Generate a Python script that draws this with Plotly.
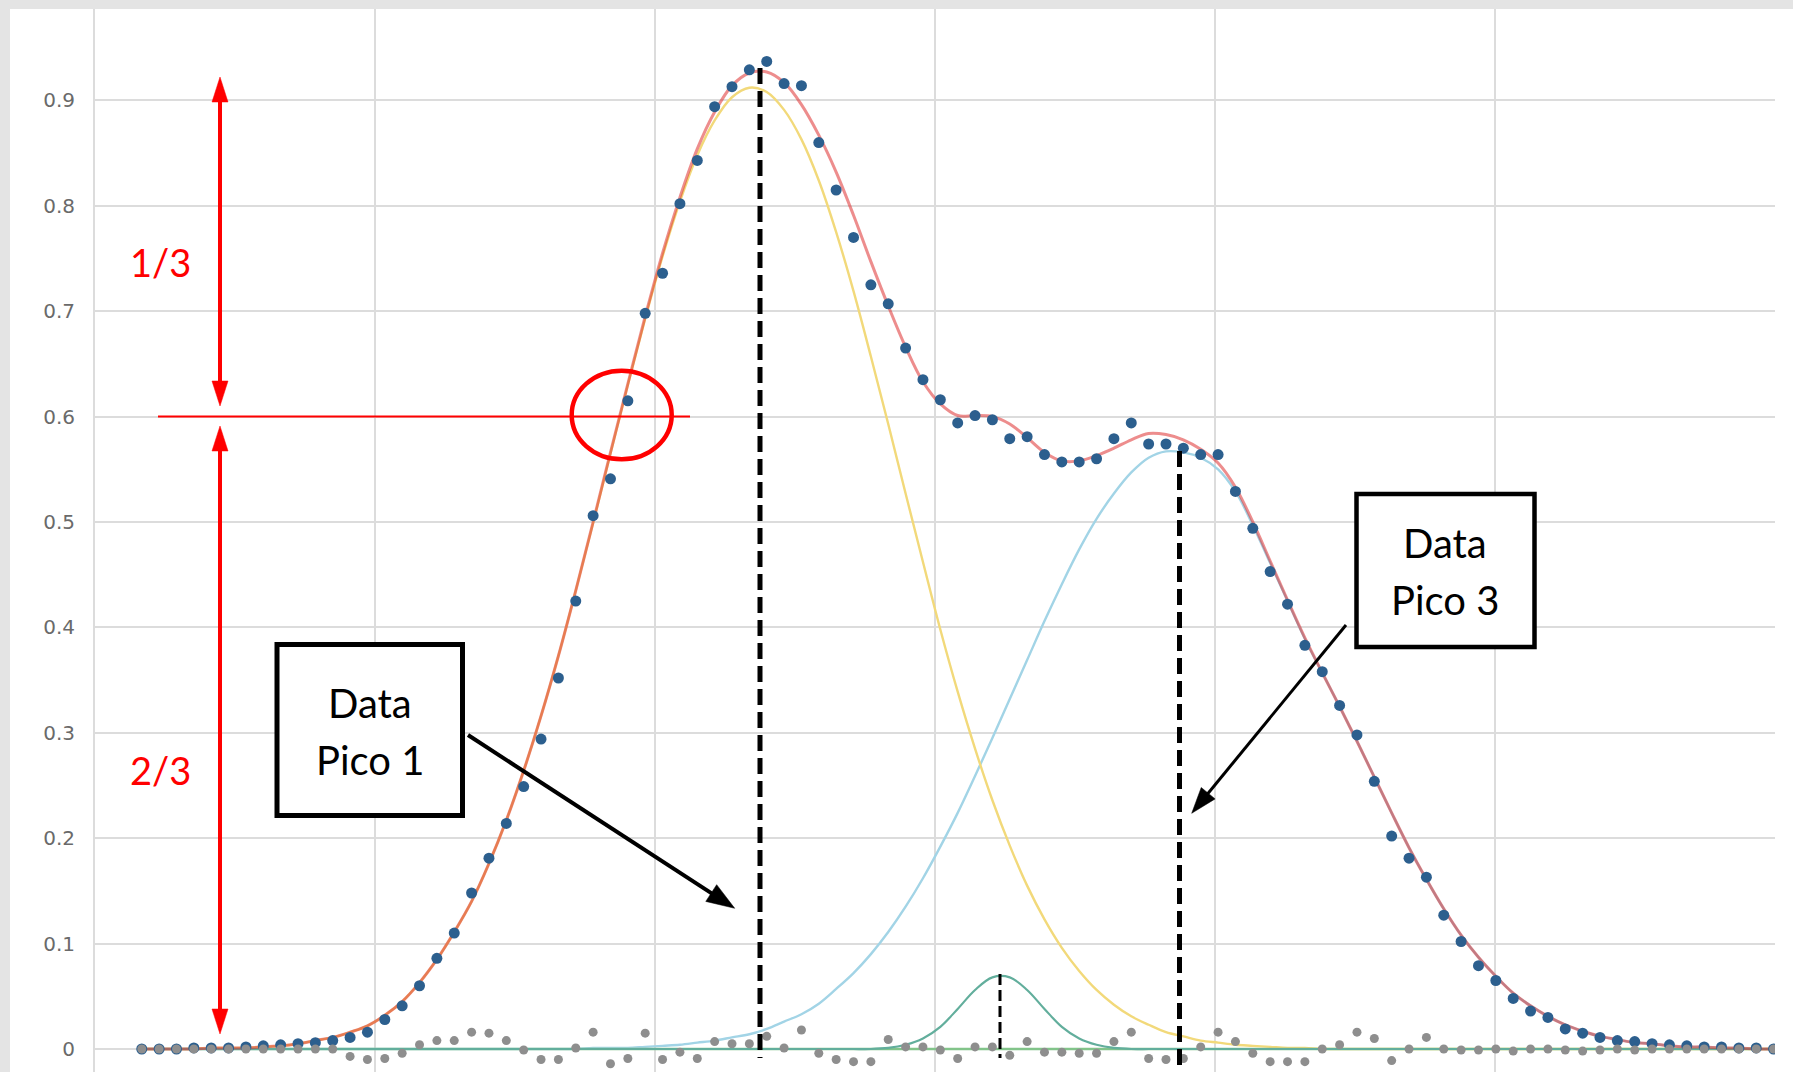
import math
import plotly.graph_objects as go

# ---------------------------------------------------------------------------
# Spectrum data
# ---------------------------------------------------------------------------
x_vals = [
    0.167, 0.229, 0.291, 0.353, 0.415, 0.477, 0.539, 0.601, 0.663, 0.725,
    0.787, 0.849, 0.911, 0.973, 1.035, 1.097, 1.159, 1.221, 1.283, 1.345,
    1.407, 1.469, 1.531, 1.593, 1.655, 1.717, 1.779, 1.841, 1.903, 1.965,
    2.027, 2.089, 2.151, 2.213, 2.275, 2.337, 2.399, 2.461, 2.523, 2.585,
    2.647, 2.709, 2.771, 2.833, 2.895, 2.957, 3.019, 3.081, 3.143, 3.205,
    3.267, 3.329, 3.391, 3.453, 3.515, 3.577, 3.639, 3.701, 3.763, 3.825,
    3.887, 3.949, 4.011, 4.073, 4.135, 4.197, 4.259, 4.321, 4.383, 4.445,
    4.507, 4.569, 4.631, 4.693, 4.755, 4.817, 4.879, 4.941, 5.003, 5.065,
    5.127, 5.189, 5.251, 5.313, 5.375, 5.437, 5.499, 5.561, 5.623, 5.685,
    5.747, 5.809, 5.871, 5.933, 5.995,
]

# measured intensity
measured = [
    0.000, 0.000, 0.000, 0.001, 0.001, 0.001, 0.002, 0.003, 0.004, 0.005,
    0.006, 0.008, 0.011, 0.016, 0.028, 0.041, 0.060, 0.086, 0.110, 0.148,
    0.181, 0.214, 0.249, 0.294, 0.352, 0.425, 0.506, 0.541, 0.615, 0.698,
    0.736, 0.802, 0.843, 0.894, 0.913, 0.929, 0.937, 0.916, 0.914, 0.860,
    0.815, 0.770, 0.725, 0.707, 0.665, 0.635, 0.616, 0.594, 0.601, 0.597,
    0.579, 0.581, 0.564, 0.557, 0.557, 0.560, 0.579, 0.594, 0.574, 0.574,
    0.570, 0.564, 0.564, 0.529, 0.494, 0.453, 0.422, 0.383, 0.358, 0.326,
    0.298, 0.254, 0.202, 0.181, 0.163, 0.127, 0.102, 0.079, 0.065, 0.048,
    0.036, 0.030, 0.019, 0.015, 0.011, 0.008, 0.007, 0.005, 0.004, 0.003,
    0.002, 0.002, 0.001, 0.001, 0.000,
]

# residual of the fit
residual = [
    0.000, 0.000, 0.000, 0.000, 0.000, 0.000, 0.000, 0.000, 0.000, 0.000,
    0.000, 0.000, -0.007, -0.010, -0.009, -0.004, 0.004, 0.008, 0.008, 0.016,
    0.015, 0.008, -0.001, -0.010, -0.010, 0.001, 0.016, -0.014, -0.009, 0.015,
    -0.010, -0.003, -0.009, 0.007, 0.005, 0.005, 0.012, 0.001, 0.018, -0.004,
    -0.010, -0.012, -0.012, 0.009, 0.002, 0.002, -0.001, -0.009, 0.002, 0.002,
    -0.006, 0.007, -0.003, -0.003, -0.004, -0.004, 0.007, 0.016, -0.009, -0.010,
    -0.009, 0.002, 0.016, 0.007, -0.004, -0.012, -0.012, -0.012, 0.000, 0.004,
    0.016, 0.010, -0.011, 0.000, 0.011, 0.000, -0.001, -0.001, 0.000, -0.002,
    0.000, 0.000, -0.001, -0.002, -0.001, 0.000, -0.001, 0.000, 0.000, 0.000,
    0.000, 0.000, 0.000, 0.000, 0.000,
]

# sum of the fitted peaks
fit_total = [
    0.000, 0.000, 0.000, 0.000, 0.001, 0.001, 0.001, 0.002, 0.003, 0.005,
    0.008, 0.011, 0.016, 0.022, 0.032, 0.045, 0.063, 0.085, 0.111, 0.140,
    0.176, 0.217, 0.264, 0.316, 0.373, 0.435, 0.500, 0.566, 0.631, 0.695,
    0.755, 0.808, 0.854, 0.889, 0.914, 0.926, 0.927, 0.917, 0.896, 0.867,
    0.832, 0.791, 0.747, 0.705, 0.666, 0.633, 0.612, 0.601, 0.601, 0.600,
    0.593, 0.580, 0.566, 0.558, 0.558, 0.563, 0.570, 0.578, 0.584, 0.583,
    0.578, 0.569, 0.556, 0.533, 0.500, 0.463, 0.426, 0.390, 0.357, 0.325,
    0.292, 0.258, 0.224, 0.191, 0.161, 0.133, 0.108, 0.087, 0.069, 0.053,
    0.041, 0.031, 0.023, 0.017, 0.012, 0.009, 0.006, 0.005, 0.003, 0.002,
    0.002, 0.001, 0.001, 0.000, 0.000,
]

# fitted components
peak1 = [
    0.000, 0.000, 0.000, 0.000, 0.001, 0.001, 0.001, 0.002, 0.003, 0.005,
    0.008, 0.011, 0.016, 0.022, 0.032, 0.045, 0.063, 0.085, 0.111, 0.140,
    0.176, 0.217, 0.264, 0.316, 0.373, 0.435, 0.499, 0.565, 0.630, 0.693,
    0.752, 0.804, 0.848, 0.881, 0.903, 0.912, 0.908, 0.891, 0.863, 0.824,
    0.775, 0.719, 0.657, 0.593, 0.527, 0.462, 0.398, 0.339, 0.285, 0.236,
    0.193, 0.155, 0.123, 0.096, 0.074, 0.056, 0.042, 0.031, 0.023, 0.016,
    0.012, 0.008, 0.006, 0.004, 0.003, 0.002, 0.001, 0.001, 0.000, 0.000,
    0.000, 0.000, 0.000, 0.000, 0.000, 0.000, 0.000, 0.000, 0.000, 0.000,
    0.000, 0.000, 0.000, 0.000, 0.000, 0.000, 0.000, 0.000, 0.000, 0.000,
    0.000, 0.000, 0.000, 0.000, 0.000,
]

peak2 = [
    0.000, 0.000, 0.000, 0.000, 0.000, 0.000, 0.000, 0.000, 0.000, 0.000,
    0.000, 0.000, 0.000, 0.000, 0.000, 0.000, 0.000, 0.000, 0.000, 0.000,
    0.000, 0.000, 0.000, 0.000, 0.000, 0.000, 0.000, 0.000, 0.000, 0.000,
    0.000, 0.000, 0.000, 0.000, 0.000, 0.000, 0.000, 0.000, 0.000, 0.000,
    0.000, 0.000, 0.000, 0.001, 0.004, 0.010, 0.021, 0.038, 0.056, 0.068,
    0.068, 0.056, 0.038, 0.021, 0.010, 0.004, 0.001, 0.000, 0.000, 0.000,
    0.000, 0.000, 0.000, 0.000, 0.000, 0.000, 0.000, 0.000, 0.000, 0.000,
    0.000, 0.000, 0.000, 0.000, 0.000, 0.000, 0.000, 0.000, 0.000, 0.000,
    0.000, 0.000, 0.000, 0.000, 0.000, 0.000, 0.000, 0.000, 0.000, 0.000,
    0.000, 0.000, 0.000, 0.000, 0.000,
]

peak3 = [
    0.000, 0.000, 0.000, 0.000, 0.000, 0.000, 0.000, 0.000, 0.000, 0.000,
    0.000, 0.000, 0.000, 0.000, 0.000, 0.000, 0.000, 0.000, 0.000, 0.000,
    0.000, 0.000, 0.000, 0.000, 0.000, 0.000, 0.001, 0.001, 0.001, 0.002,
    0.003, 0.004, 0.006, 0.008, 0.011, 0.014, 0.019, 0.026, 0.033, 0.043,
    0.057, 0.072, 0.090, 0.111, 0.135, 0.162, 0.192, 0.224, 0.259, 0.295,
    0.332, 0.369, 0.406, 0.441, 0.474, 0.503, 0.527, 0.547, 0.561, 0.567,
    0.566, 0.561, 0.550, 0.529, 0.497, 0.461, 0.425, 0.389, 0.357, 0.325,
    0.292, 0.258, 0.224, 0.191, 0.161, 0.133, 0.108, 0.087, 0.069, 0.053,
    0.041, 0.031, 0.023, 0.017, 0.012, 0.009, 0.006, 0.005, 0.003, 0.002,
    0.002, 0.001, 0.001, 0.000, 0.000,
]

y_ticks = [0, 0.1, 0.2, 0.3, 0.4, 0.5, 0.6, 0.7, 0.8, 0.9]
y_tick_labels = ["0", "0.1", "0.2", "0.3", "0.4", "0.5", "0.6", "0.7", "0.8", "0.9"]

for series in (measured, residual, fit_total, peak1, peak2, peak3):
    assert len(series) == len(x_vals)

# ---------------------------------------------------------------------------
# Page geometry (pixels) and pixel -> axis helpers for the overlay drawings
# ---------------------------------------------------------------------------
W, H = 1793, 1072
M_L, M_R, M_T, M_B = 95, 18, 9, 0
X_MIN, X_MAX = 0.0, 6.0
Y_ZERO_PX = 1049.0
Y_PX_PER_UNIT = 1054.0
Y_MAX = (Y_ZERO_PX - M_T) / Y_PX_PER_UNIT
Y_MIN = (Y_ZERO_PX - (H - M_B)) / Y_PX_PER_UNIT
X_PX_PER_UNIT = (W - M_L - M_R) / (X_MAX - X_MIN)
PLOT_W = W - M_L - M_R
PLOT_H = H - M_T - M_B


def ax_x(px):
    return X_MIN + (px - M_L) / X_PX_PER_UNIT


def ax_y(py):
    return (Y_ZERO_PX - py) / Y_PX_PER_UNIT


def paper_x(px):
    return (px - M_L) / PLOT_W


def paper_y(py):
    return (H - M_B - py) / PLOT_H


def arrow(x0, y0, x1, y1, color, width, head_len, head_w, both=False):
    """Straight arrow drawn as a shaft plus filled triangular head(s)."""
    dx, dy = x1 - x0, y1 - y0
    n = math.hypot(dx, dy)
    ux, uy = dx / n, dy / n
    nx, ny = -uy, ux
    out = []

    def head(tx, ty, sx, sy):
        bx, by = tx - sx * head_len, ty - sy * head_len
        pts = [(tx, ty),
               (bx + nx * head_w / 2, by + ny * head_w / 2),
               (bx - nx * head_w / 2, by - ny * head_w / 2)]
        path = "M " + " L ".join(f"{ax_x(px):.5f},{ax_y(py):.5f}" for px, py in pts) + " Z"
        return dict(type="path", xref="x", yref="y", path=path,
                    fillcolor=color, line=dict(color=color, width=0.5))

    sx0, sy0 = (x0 + ux * head_len * 0.8, y0 + uy * head_len * 0.8) if both else (x0, y0)
    ex, ey = x1 - ux * head_len * 0.8, y1 - uy * head_len * 0.8
    out.append(dict(type="line", xref="x", yref="y",
                    x0=ax_x(sx0), y0=ax_y(sy0), x1=ax_x(ex), y1=ax_y(ey),
                    line=dict(color=color, width=width)))
    out.append(head(x1, y1, ux, uy))
    if both:
        out.append(head(x0, y0, -ux, -uy))
    return out


RED = "#ff0000"
TEXT_FONT = "Lato, 'Open Sans', sans-serif"

# ---------------------------------------------------------------------------
# Traces (component curves first, baseline over their tails, fit sum on top)
# ---------------------------------------------------------------------------
fig = go.Figure()

fig.add_trace(go.Scatter(
    x=x_vals, y=peak3, mode="lines", line_shape="spline",
    line=dict(color="#a2d4e6", width=2.4)))
fig.add_trace(go.Scatter(
    x=x_vals, y=peak1, mode="lines", line_shape="spline",
    line=dict(color="#f2d97a", width=2.4)))
fig.add_trace(go.Scatter(
    x=[x_vals[0], x_vals[-1]], y=[0, 0], mode="lines",
    line=dict(color="#82c48a", width=2.5), hoverinfo="skip"))
fig.add_trace(go.Scatter(
    x=x_vals, y=peak2, mode="lines", line_shape="spline",
    line=dict(color="#62ae9c", width=2.2)))
fig.add_trace(go.Scatter(
    x=x_vals, y=fit_total, mode="lines", line_shape="spline",
    line=dict(color="rgba(222,48,48,0.55)", width=3)))
fig.add_trace(go.Scatter(
    x=x_vals, y=measured, mode="markers",
    marker=dict(color="#2c5f8e", size=11, line=dict(width=0))))
fig.add_trace(go.Scatter(
    x=x_vals, y=residual, mode="markers",
    marker=dict(color="#8e8e8e", size=9, line=dict(width=0))))

# ---------------------------------------------------------------------------
# Overlay drawings
# ---------------------------------------------------------------------------
shapes = []

# light grey frame strips along the top and left edge
shapes.append(dict(type="rect", xref="paper", yref="paper",
                   x0=paper_x(0), x1=paper_x(W), y0=paper_y(M_T), y1=paper_y(0),
                   fillcolor="#e4e4e4", line=dict(width=0), layer="below"))
shapes.append(dict(type="rect", xref="paper", yref="paper",
                   x0=paper_x(0), x1=paper_x(10), y0=paper_y(H), y1=paper_y(0),
                   fillcolor="#e4e4e4", line=dict(width=0), layer="below"))

# reference level line and marker circle
shapes.append(dict(type="line", xref="x", yref="y",
                   x0=ax_x(158), x1=ax_x(690), y0=0.6, y1=0.6,
                   line=dict(color=RED, width=2)))
shapes.append(dict(type="circle", xref="x", yref="y",
                   x0=ax_x(571.7), x1=ax_x(671.7), y0=ax_y(459.3), y1=ax_y(370.7),
                   line=dict(color=RED, width=4.5)))

# red double arrows for the 1/3 and 2/3 spans
shapes += arrow(220, 77, 220, 406, RED, 4, 25, 16, both=True)
shapes += arrow(220, 426, 220, 1034, RED, 4, 25, 16, both=True)

# peak position markers
shapes.append(dict(type="line", xref="x", yref="y",
                   x0=ax_x(760), x1=ax_x(760), y0=ax_y(68), y1=ax_y(1058),
                   line=dict(color="black", width=5, dash="16px,7px")))
shapes.append(dict(type="line", xref="x", yref="y",
                   x0=ax_x(1179.5), x1=ax_x(1179.5), y0=ax_y(451), y1=ax_y(1075),
                   line=dict(color="black", width=5, dash="16px,7px")))
shapes.append(dict(type="line", xref="x", yref="y",
                   x0=ax_x(1000), x1=ax_x(1000), y0=ax_y(974), y1=ax_y(1058),
                   line=dict(color="black", width=3, dash="11px,5px")))

# label boxes
shapes.append(dict(type="rect", xref="x", yref="y",
                   x0=ax_x(277), x1=ax_x(462.5), y0=ax_y(815.5), y1=ax_y(644.5),
                   fillcolor="white", line=dict(color="black", width=5)))
shapes.append(dict(type="rect", xref="x", yref="y",
                   x0=ax_x(1356.5), x1=ax_x(1534.5), y0=ax_y(647), y1=ax_y(494),
                   fillcolor="white", line=dict(color="black", width=4.5)))

# pointer arrows from the boxes
shapes += arrow(468, 735, 734.7, 908.3, "black", 4, 28, 20)
shapes += arrow(1346, 625, 1191.7, 813.3, "black", 3, 26, 18)

annotations = []


def label(px, py, text, size, color):
    annotations.append(dict(
        xref="x", yref="y", x=ax_x(px), y=ax_y(py), text=text, showarrow=False,
        xanchor="center", yanchor="middle",
        font=dict(family=TEXT_FONT, size=size, color=color)))


label(160, 262, "1/3", 38, RED)
label(160, 770, "2/3", 38, RED)
label(370, 703, "Data", 40, "black")
label(370, 760, "Pico 1", 40, "black")
label(1445, 543, "Data", 40, "black")
label(1445, 600, "Pico 3", 40, "black")

# ---------------------------------------------------------------------------
# Layout
# ---------------------------------------------------------------------------
fig.update_layout(
    width=W, height=H,
    margin=dict(l=M_L, r=M_R, t=M_T, b=M_B, pad=0),
    paper_bgcolor="white", plot_bgcolor="white",
    showlegend=False,
    shapes=shapes,
    annotations=annotations,
    xaxis=dict(range=[X_MIN, X_MAX], tick0=0, dtick=1, showgrid=True,
               gridcolor="#dcdcdc", gridwidth=2, zeroline=False,
               showticklabels=False, showline=False, ticks=""),
    yaxis=dict(range=[Y_MIN, Y_MAX], tickvals=y_ticks, ticktext=y_tick_labels,
               showgrid=True, gridcolor="#dcdcdc", gridwidth=2, zeroline=False,
               showline=True, linecolor="#dcdcdc", linewidth=2, ticks="",
               ticklabelstandoff=14,
               tickfont=dict(family="DejaVu Sans, Liberation Sans, sans-serif",
                             size=20, color="#6a6a6a")),
)

fig.write_html("out.html")
